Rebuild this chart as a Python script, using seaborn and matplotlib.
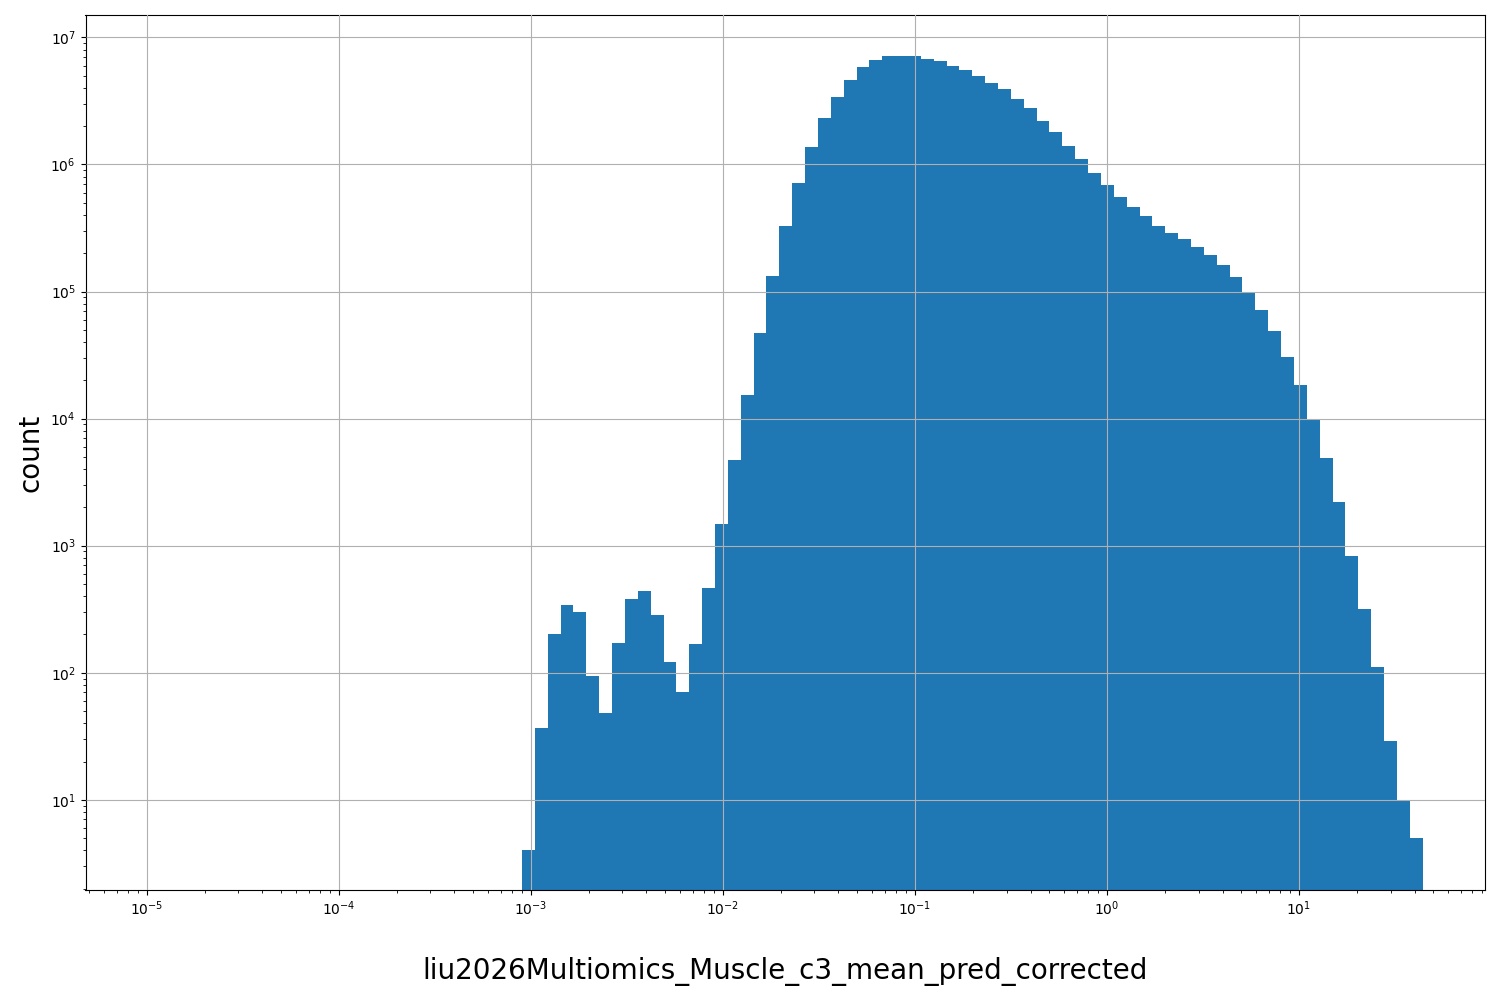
import seaborn as sns
import matplotlib.pyplot as plt
import numpy as np
import pandas as pd

# log-spaced bins, 70 bins from ~9e-4 to ~44
bin_lo = 9.0e-4
bin_hi = 44.0
n_bins = 70
counts = [4, 37, 200, 340, 300, 95, 48, 170, 380, 440,
          285, 122, 70, 168, 465, 1480, 4750, 15400, 47500, 132000,
          330000, 720000, 1.38e6, 2.3e6, 3.4e6, 4.6e6, 5.8e6, 6.6e6, 7.1e6, 7.2e6,
          7.1e6, 6.8e6, 6.5e6, 6.0e6, 5.5e6, 5.0e6, 4.4e6, 3.9e6, 3.3e6, 2.8e6,
          2.2e6, 1.8e6, 1.4e6, 1.1e6, 860000, 690000, 550000, 460000, 390000, 330000,
          290000, 260000, 225000, 195000, 163000, 130000, 100000, 72000, 49000, 30500,
          18500, 9800, 4900, 2200, 830, 320, 111, 29, 10, 5]

edges = np.logspace(np.log10(bin_lo), np.log10(bin_hi), n_bins + 1)
df = pd.DataFrame({'value': np.sqrt(edges[:-1] * edges[1:]), 'count': counts})

fig, ax = plt.subplots(figsize=(15, 10), dpi=100)
sns.histplot(data=df, x='value', weights='count', bins=list(edges), ax=ax, color='#1f77b4',
             alpha=1, linewidth=0, element='bars')
ax.set_xscale('log')
ax.set_yscale('log')
ax.set_xlim(4.8e-6, 93)
ax.set_ylim(1.95, 1.5e7)
ax.grid(True, color='#b0b0b0', linewidth=0.8)
ax.set_axisbelow(False)
ax.set_xlabel('liu2026Multiomics_Muscle_c3_mean_pred_corrected', fontsize=20, labelpad=28)
ax.set_ylabel('count', fontsize=20)
fig.subplots_adjust(left=0.057, right=0.99, top=0.985, bottom=0.11)
fig.savefig('out.png')
